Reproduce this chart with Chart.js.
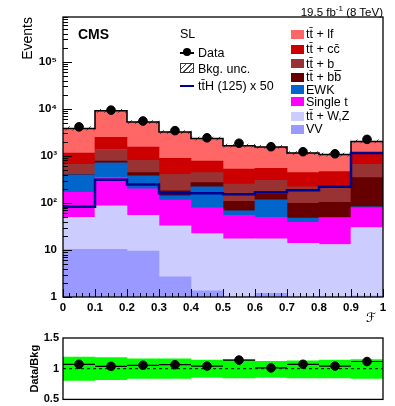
<!DOCTYPE html>
<html lang="en">
<head>
<meta charset="UTF-8">
<title>SL discriminant</title>
<script src="https://cdn.jsdelivr.net/npm/chart.js@4"></script>
<style>
  body { margin: 0; background: #fff; font-family: "Liberation Sans", Arial, sans-serif; }
  #wrap { position: relative; width: 395px; height: 406px; overflow: hidden; }
  canvas { position: absolute; left: 0; }
  #main { top: 0; }
  #ratio { top: 320px; }
  .txt { position: absolute; white-space: nowrap; color: #000; font-size: 12.5px; line-height: 14px; }
  .box { position: absolute; width: 13px; height: 9px; }
</style>
</head>
<body>
<div id="wrap">
  <canvas id="main" width="395" height="330"></canvas>
  <canvas id="ratio" width="395" height="90"></canvas>
  <div id="overlay"></div>
</div>
<script>
// bins of the discriminant F
const edges = [0, 0.1, 0.2, 0.3, 0.4, 0.5, 0.6, 0.7, 0.8, 0.9, 1.0];
const centers = [0.05, 0.15, 0.25, 0.35, 0.45, 0.55, 0.65, 0.75, 0.85, 0.95];

// background processes (events per bin), bottom of the stack first
const vv      = [10.3, 10.3, 9.5, 2.7, 1.35, 0.8, 1.2, 0.8, 0.7, 1.05];
const ttVZ    = [39, 77, 45, 30, 21, 16.5, 16, 13, 12.4, 29];
const singleT = [118, 263, 146, 82, 56, 37, 32, 25, 35, 49];
const ewk     = [227, 365, 175, 27, 142, 14, 68, 9, 0.5, 4];
const ttbb    = [13, 63, 65, 39, 50, 40, 37, 50, 54, 262];
const ttb     = [255, 592, 363, 226, 170, 143, 150, 122, 118, 317];
const ttcc    = [484, 1120, 732, 479, 338, 274, 241, 220, 242, 413];
const ttlf    = [2704, 6630, 3715, 2334, 1562, 1125, 1005, 710, 608, 955];

const dataEvents = [4150, 9400, 5530, 3450, 2430, 1860, 1570, 1230, 1110, 2250];
const ttH50 = [83, 310, 248, 160, 160, 153, 168, 187, 222, 1160];
const bkgUnc = [0.09, 0.08, 0.08, 0.08, 0.08, 0.08, 0.08, 0.08, 0.08, 0.08];

// ratio panel
const ratio = [1.072, 1.038, 1.055, 1.065, 1.043, 1.14, 1.014, 1.072, 1.043, 1.117];
const ratioBandLo = [0.81, 0.82, 0.84, 0.84, 0.86, 0.85, 0.86, 0.85, 0.85, 0.84];
const ratioBandHi = [1.19, 1.18, 1.16, 1.16, 1.14, 1.15, 1.12, 1.13, 1.14, 1.15];

const yTickValues = [1, 10, 100, 1000, 10000, 100000];
const yTickLabels = ['1', '10', '10²', '10³', '10⁴', '10⁵'];
const ratioTicks = [0.5, 1, 1.5];

const layers = [
  { label: 'VV', values: vv, color: '#9999ff' },
  { label: 'tt̄ + W,Z', values: ttVZ, color: '#ccccff' },
  { label: 'Single t', values: singleT, color: '#ff00ff' },
  { label: 'EWK', values: ewk, color: '#0066cc' },
  { label: 'tt̄ + bb̄', values: ttbb, color: '#660000' },
  { label: 'tt̄ + b_', values: ttb, color: '#993333' },
  { label: 'tt̄ + cc̄', values: ttcc, color: '#cc0000' },
  { label: 'tt̄ + lf', values: ttlf, color: '#ff6666' }
];
const total = centers.map((c, i) => layers.reduce((s, l) => s + l.values[i], 0));
const stepPts = vals => edges.map((x, i) => ({ x, y: vals[Math.min(i, vals.length - 1)] }));

const FONT = '"Liberation Sans", Arial, sans-serif';
const tickFont = { family: FONT, size: 11.5, weight: 'bold' };

function makeHatch() {
  const c = document.createElement('canvas');
  c.width = 7; c.height = 7;
  const g = c.getContext('2d');
  g.strokeStyle = '#444';
  g.lineWidth = 1;
  g.beginPath();
  g.moveTo(0, 7); g.lineTo(7, 0);
  g.moveTo(-1, 1); g.lineTo(1, -1);
  g.moveTo(6, 8); g.lineTo(8, 6);
  g.stroke();
  return g.createPattern(c, 'repeat');
}

// frame + inward ROOT style ticks
const frame = {
  id: 'frame',
  afterDraw(chart, args, o) {
    const { ctx, chartArea: a } = chart;
    const xs = chart.scales.x, ys = chart.scales.y;
    ctx.save();
    ctx.strokeStyle = '#000';
    ctx.lineWidth = 1;
    ctx.beginPath();
    if (o.ticks) {
      for (let i = 0; i <= 50; i++) {
        const px = Math.round(xs.getPixelForValue(i * 0.02)) + 0.5;
        ctx.moveTo(px, a.bottom);
        ctx.lineTo(px, a.bottom - (i % 5 === 0 ? 8 : 4));
      }
      for (let k = 0; k <= 5; k++) {
        for (let m = 1; m <= 9; m++) {
          const v = m * Math.pow(10, k);
          if (v > ys.max) break;
          const py = Math.round(ys.getPixelForValue(v)) + 0.5;
          ctx.moveTo(a.left, py);
          ctx.lineTo(a.left + (m === 1 ? 9 : 5), py);
        }
      }
    }
    ctx.stroke();
    ctx.lineWidth = 1.3;
    ctx.strokeRect(a.left, a.top, a.width, a.height);
    ctx.restore();
  }
};

const barCommon = { borderWidth: 0, barPercentage: 1, categoryPercentage: 1, grouped: false };
const noGrid = { display: false, drawTicks: false };

const mainSets = layers.map(l => ({
  type: 'bar', label: l.label, backgroundColor: l.color, stack: 'bkg', order: 5,
  data: centers.map((x, i) => ({ x, y: l.values[i] })), ...barCommon
}));
mainSets.push({
  type: 'bar', label: 'Bkg. unc.', backgroundColor: makeHatch(), stack: 'unc', order: 4,
  data: centers.map((x, i) => ({ x, y: [total[i] / (1 + bkgUnc[i]), total[i] * (1 + bkgUnc[i])] })), ...barCommon
});
mainSets.push({
  type: 'line', label: 'total', data: stepPts(total), stepped: 'before',
  borderColor: '#000', borderWidth: 1.5, pointRadius: 0, stack: 'tot', order: 3
});
mainSets.push({
  type: 'line', label: 'tt̄H (125) x 50', data: stepPts(ttH50), stepped: 'before',
  borderColor: '#00008f', borderWidth: 2.5, pointRadius: 0, stack: 'tth', order: 2
});
mainSets.push({
  type: 'line', label: 'Data', data: centers.map((x, i) => ({ x, y: dataEvents[i] })),
  showLine: false, pointRadius: 4.3, pointBackgroundColor: '#000', pointBorderColor: '#000',
  stack: 'data', order: 1
});

new Chart(document.getElementById('main'), {
  type: 'bar',
  data: { datasets: mainSets },
  options: {
    responsive: false, animation: false, events: [],
    layout: { padding: { top: 17, right: 12, bottom: 0, left: 0 } },
    plugins: { legend: { display: false }, tooltip: { enabled: false }, frame: { ticks: true } },
    scales: {
      x: {
        type: 'linear', min: 0, max: 1, offset: false,
        grid: noGrid, border: { display: false },
        afterBuildTicks: s => { s.ticks = edges.map(v => ({ value: v })); },
        afterFit: s => { s.height = 33; },
        ticks: { padding: 4, maxRotation: 0, autoSkip: false, color: '#000', font: tickFont,
                 callback: v => String(+v.toFixed(1)) }
      },
      y: {
        type: 'logarithmic', min: 1, max: 9e5, stacked: true,
        grid: noGrid, border: { display: false },
        afterBuildTicks: s => { s.ticks = yTickValues.map(v => ({ value: v })); },
        afterFit: s => { s.width = 63; },
        ticks: { padding: 6, autoSkip: false, color: '#000', font: tickFont,
                 callback: (v, i) => yTickLabels[i] },
        title: { display: true, text: 'Events', align: 'end', color: '#000',
                 font: { family: FONT, size: 14 }, padding: { top: 20 } }
      }
    }
  },
  plugins: [frame]
});

// ratio panel
const ratioSegs = [];
centers.forEach((c, i) => {
  ratioSegs.push({ x: edges[i], y: ratio[i] }, { x: edges[i + 1], y: ratio[i] }, { x: edges[i + 1], y: null });
});

new Chart(document.getElementById('ratio'), {
  type: 'bar',
  data: {
    datasets: [
      { type: 'bar', label: 'unc', backgroundColor: '#00ff00', order: 4,
        data: centers.map((x, i) => ({ x, y: [ratioBandLo[i], ratioBandHi[i]] })), ...barCommon },
      { type: 'line', label: 'one', data: [{ x: 0, y: 1 }, { x: 1, y: 1 }], borderColor: '#000',
        borderWidth: 1, borderDash: [3, 3], pointRadius: 0, order: 3 },
      { type: 'line', label: 'ratio bins', data: ratioSegs, borderColor: '#000', borderWidth: 1.2,
        pointRadius: 0, spanGaps: false, order: 2 },
      { type: 'line', label: 'Data/Bkg', data: centers.map((x, i) => ({ x, y: ratio[i] })),
        showLine: false, pointRadius: 4.3, pointBackgroundColor: '#000', pointBorderColor: '#000', order: 1 }
    ]
  },
  options: {
    responsive: false, animation: false, events: [],
    layout: { padding: { top: 18, right: 12, bottom: 5, left: 0 } },
    plugins: { legend: { display: false }, tooltip: { enabled: false }, frame: { ticks: false } },
    scales: {
      x: { type: 'linear', min: 0, max: 1, offset: false, display: false,
           afterBuildTicks: s => { s.ticks = edges.map(v => ({ value: v })); } },
      y: {
        min: 0.5, max: 1.5,
        grid: noGrid, border: { display: false },
        afterBuildTicks: s => { s.ticks = ratioTicks.map(v => ({ value: v })); },
        afterFit: s => { s.width = 63; },
        ticks: { padding: 4, color: '#000', font: { family: FONT, size: 11, weight: 'bold' },
                 callback: v => String(v) },
        title: { display: true, text: 'Data/Bkg', color: '#000',
                 font: { family: FONT, size: 11, weight: 'bold' }, padding: { top: 28 } }
      }
    }
  },
  plugins: [frame]
});

// text and legend overlays
const ov = document.getElementById('overlay');
function addText(html, left, cy, style) {
  const d = document.createElement('div');
  d.className = 'txt';
  d.innerHTML = html;
  d.style.left = left + 'px';
  d.style.top = (cy - 7) + 'px';
  if (style) Object.assign(d.style, style);
  ov.appendChild(d);
  return d;
}
function addBox(left, top, w, h, style) {
  const d = document.createElement('div');
  d.className = 'box';
  Object.assign(d.style, { left: left + 'px', top: top + 'px', width: w + 'px', height: h + 'px' }, style);
  ov.appendChild(d);
}

addText('CMS', 78, 34, { fontWeight: 'bold', fontSize: '14px' });
addText('19.5 fb<sup style="font-size:8px">-1</sup> (8 TeV)', 0, 9, { left: 'auto', right: '12px', fontSize: '11.5px' });
addText('ℱ', 366, 318, { fontFamily: '"DejaVu Sans", sans-serif', fontSize: '13px', fontStyle: 'italic' });

// left legend block
addText('SL', 180, 34);
addBox(180, 52, 14, 1.5, { background: '#000' });
addBox(183, 48, 8, 8, { background: '#000', borderRadius: '50%' });
addText('Data', 198, 52.5);
addBox(180, 63, 14, 10, { border: '1px solid #333', boxSizing: 'border-box',
  background: 'repeating-linear-gradient(135deg, #fff 0 3px, #444 3px 4px)' });
addText('Bkg. unc.', 198, 68.5);
addBox(180, 84.5, 14, 2.5, { background: '#00008f' });
addText('tt̄H (125) x 50', 198, 85.5);

// right legend block: top of the stack first
const legendY = [34, 49, 63.5, 77, 89.5, 101.5, 116, 129];
layers.slice().reverse().forEach((l, i) => {
  addBox(291, legendY[i] - 4.5, 13, 9, { background: l.color });
  addText(l.label, 306, legendY[i]);
});
</script>
</body>
</html>
